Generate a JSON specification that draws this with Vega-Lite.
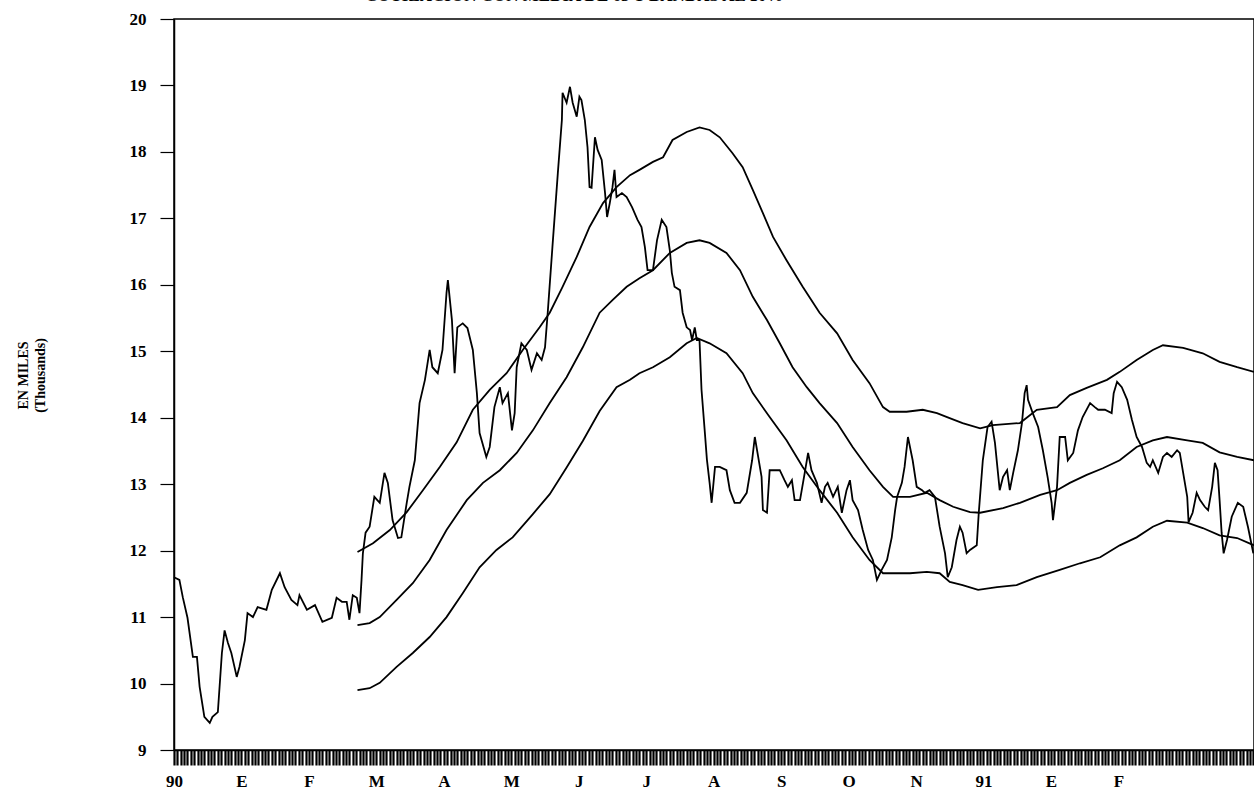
{
 "$schema": "https://vega.github.io/schema/vega-lite/v6.json",
 "width": 1080, "height": 731,
 "autosize": {"type": "none"},
 "padding": {"left": 174, "top": 19, "right": 0, "bottom": 50},
 "background": "white",
 "title": {"text": "COTIZACION CON MEDIA DE 65 Y BANDAS AL 10%", "anchor": "start", "frame": "group", "dx": 191, "dy": 12, "offset": 4, "baseline": "alphabetic", "font": "Liberation Serif", "fontSize": 17, "fontWeight": "bold", "color": "black"},
 "config": {
  "view": {"stroke": "black", "strokeWidth": 1.5},
  "axis": {"domainColor": "black", "domainWidth": 1.5, "tickColor": "black", "labelColor": "black", "labelFont": "Liberation Serif", "labelFontWeight": "bold", "labelFontSize": 17, "grid": false, "titleColor": "black"}
 },
 "data": {"values": [
  {"s":"c","t":0,"v":11.6},{"s":"c","t":0.08,"v":11.56},{"s":"c","t":0.13,"v":11.3},{"s":"c","t":0.2,"v":10.99},{"s":"c","t":0.28,"v":10.4},{"s":"c","t":0.34,"v":10.4},{"s":"c","t":0.38,"v":9.95},{"s":"c","t":0.45,"v":9.5},{"s":"c","t":0.53,"v":9.41},{"s":"c","t":0.57,"v":9.5},{"s":"c","t":0.65,"v":9.57},{"s":"c","t":0.71,"v":10.46},{"s":"c","t":0.75,"v":10.8},{"s":"c","t":0.8,"v":10.61},{"s":"c","t":0.85,"v":10.46},{"s":"c","t":0.93,"v":10.1},{"s":"c","t":0.97,"v":10.25},{"s":"c","t":1.05,"v":10.65},{"s":"c","t":1.09,"v":11.06},{"s":"c","t":1.17,"v":11.0},{"s":"c","t":1.24,"v":11.15},{"s":"c","t":1.37,"v":11.11},{"s":"c","t":1.45,"v":11.41},{"s":"c","t":1.57,"v":11.66},{"s":"c","t":1.64,"v":11.45},{"s":"c","t":1.74,"v":11.26},{"s":"c","t":1.83,"v":11.18},{"s":"c","t":1.86,"v":11.33},{"s":"c","t":1.97,"v":11.11},{"s":"c","t":2.09,"v":11.18},{"s":"c","t":2.2,"v":10.93},{"s":"c","t":2.34,"v":10.99},{"s":"c","t":2.41,"v":11.29},{"s":"c","t":2.49,"v":11.23},{"s":"c","t":2.56,"v":11.23},{"s":"c","t":2.6,"v":10.96},{"s":"c","t":2.65,"v":11.33},{"s":"c","t":2.71,"v":11.29},{"s":"c","t":2.75,"v":11.06},{"s":"c","t":2.78,"v":11.56},{"s":"c","t":2.8,"v":11.96},{"s":"c","t":2.84,"v":12.27},{"s":"c","t":2.9,"v":12.36},{"s":"c","t":2.97,"v":12.81},{"s":"c","t":3.05,"v":12.72},{"s":"c","t":3.12,"v":13.17},{"s":"c","t":3.17,"v":13.02},{"s":"c","t":3.24,"v":12.46},{"s":"c","t":3.32,"v":12.19},{"s":"c","t":3.37,"v":12.2},{"s":"c","t":3.45,"v":12.72},{"s":"c","t":3.49,"v":12.96},{"s":"c","t":3.57,"v":13.36},{"s":"c","t":3.64,"v":14.22},{"s":"c","t":3.72,"v":14.57},{"s":"c","t":3.79,"v":15.02},{"s":"c","t":3.83,"v":14.76},{"s":"c","t":3.91,"v":14.67},{"s":"c","t":3.98,"v":15.02},{"s":"c","t":4.04,"v":15.88},{"s":"c","t":4.06,"v":16.07},{"s":"c","t":4.12,"v":15.47},{"s":"c","t":4.16,"v":14.67},{"s":"c","t":4.2,"v":15.36},{"s":"c","t":4.28,"v":15.42},{"s":"c","t":4.35,"v":15.35},{"s":"c","t":4.43,"v":15.02},{"s":"c","t":4.49,"v":14.37},{"s":"c","t":4.53,"v":13.77},{"s":"c","t":4.63,"v":13.41},{"s":"c","t":4.68,"v":13.56},{"s":"c","t":4.75,"v":14.16},{"s":"c","t":4.83,"v":14.46},{"s":"c","t":4.87,"v":14.22},{"s":"c","t":4.95,"v":14.37},{"s":"c","t":5.01,"v":13.81},{"s":"c","t":5.05,"v":14.07},{"s":"c","t":5.08,"v":14.76},{"s":"c","t":5.15,"v":15.12},{"s":"c","t":5.23,"v":15.02},{"s":"c","t":5.3,"v":14.72},{"s":"c","t":5.38,"v":14.97},{"s":"c","t":5.45,"v":14.87},{"s":"c","t":5.5,"v":15.06},{"s":"c","t":5.54,"v":15.58},{"s":"c","t":5.61,"v":16.57},{"s":"c","t":5.69,"v":17.68},{"s":"c","t":5.75,"v":18.48},{"s":"c","t":5.76,"v":18.89},{"s":"c","t":5.82,"v":18.74},{"s":"c","t":5.87,"v":18.98},{"s":"c","t":5.91,"v":18.74},{"s":"c","t":5.97,"v":18.53},{"s":"c","t":6.01,"v":18.83},{"s":"c","t":6.04,"v":18.78},{"s":"c","t":6.09,"v":18.48},{"s":"c","t":6.13,"v":18.07},{"s":"c","t":6.16,"v":17.47},{"s":"c","t":6.19,"v":17.46},{"s":"c","t":6.24,"v":18.22},{"s":"c","t":6.28,"v":18.03},{"s":"c","t":6.34,"v":17.88},{"s":"c","t":6.39,"v":17.38},{"s":"c","t":6.42,"v":17.02},{"s":"c","t":6.46,"v":17.23},{"s":"c","t":6.5,"v":17.47},{"s":"c","t":6.53,"v":17.73},{"s":"c","t":6.56,"v":17.32},{"s":"c","t":6.64,"v":17.38},{"s":"c","t":6.71,"v":17.32},{"s":"c","t":6.79,"v":17.17},{"s":"c","t":6.87,"v":16.98},{"s":"c","t":6.93,"v":16.87},{"s":"c","t":6.98,"v":16.57},{"s":"c","t":7.02,"v":16.22},{"s":"c","t":7.1,"v":16.22},{"s":"c","t":7.16,"v":16.67},{"s":"c","t":7.23,"v":16.98},{"s":"c","t":7.3,"v":16.87},{"s":"c","t":7.35,"v":16.52},{"s":"c","t":7.38,"v":16.18},{"s":"c","t":7.42,"v":15.97},{"s":"c","t":7.5,"v":15.92},{"s":"c","t":7.54,"v":15.58},{"s":"c","t":7.6,"v":15.36},{"s":"c","t":7.65,"v":15.32},{"s":"c","t":7.68,"v":15.17},{"s":"c","t":7.72,"v":15.36},{"s":"c","t":7.75,"v":15.17},{"s":"c","t":7.79,"v":15.17},{"s":"c","t":7.82,"v":14.42},{"s":"c","t":7.87,"v":13.77},{"s":"c","t":7.9,"v":13.37},{"s":"c","t":7.94,"v":13.02},{"s":"c","t":7.97,"v":12.72},{"s":"c","t":8.02,"v":13.26},{"s":"c","t":8.09,"v":13.26},{"s":"c","t":8.19,"v":13.21},{"s":"c","t":8.24,"v":12.91},{"s":"c","t":8.31,"v":12.72},{"s":"c","t":8.39,"v":12.72},{"s":"c","t":8.49,"v":12.87},{"s":"c","t":8.57,"v":13.36},{"s":"c","t":8.61,"v":13.71},{"s":"c","t":8.65,"v":13.47},{"s":"c","t":8.71,"v":13.11},{"s":"c","t":8.73,"v":12.61},{"s":"c","t":8.79,"v":12.57},{"s":"c","t":8.83,"v":13.21},{"s":"c","t":8.98,"v":13.21},{"s":"c","t":9.05,"v":13.06},{"s":"c","t":9.1,"v":12.96},{"s":"c","t":9.16,"v":13.06},{"s":"c","t":9.2,"v":12.76},{"s":"c","t":9.28,"v":12.76},{"s":"c","t":9.35,"v":13.17},{"s":"c","t":9.4,"v":13.47},{"s":"c","t":9.45,"v":13.21},{"s":"c","t":9.53,"v":13.02},{"s":"c","t":9.6,"v":12.72},{"s":"c","t":9.65,"v":12.96},{"s":"c","t":9.69,"v":13.02},{"s":"c","t":9.77,"v":12.81},{"s":"c","t":9.84,"v":12.96},{"s":"c","t":9.9,"v":12.57},{"s":"c","t":9.97,"v":12.91},{"s":"c","t":10.02,"v":13.06},{"s":"c","t":10.06,"v":12.76},{"s":"c","t":10.14,"v":12.61},{"s":"c","t":10.21,"v":12.31},{"s":"c","t":10.29,"v":12.01},{"s":"c","t":10.36,"v":11.86},{"s":"c","t":10.42,"v":11.56},{"s":"c","t":10.49,"v":11.71},{"s":"c","t":10.57,"v":11.86},{"s":"c","t":10.64,"v":12.2},{"s":"c","t":10.69,"v":12.61},{"s":"c","t":10.72,"v":12.81},{"s":"c","t":10.79,"v":13.02},{"s":"c","t":10.83,"v":13.26},{"s":"c","t":10.88,"v":13.71},{"s":"c","t":10.95,"v":13.36},{"s":"c","t":11.01,"v":12.96},{"s":"c","t":11.09,"v":12.91},{"s":"c","t":11.13,"v":12.87},{"s":"c","t":11.2,"v":12.91},{"s":"c","t":11.28,"v":12.81},{"s":"c","t":11.35,"v":12.36},{"s":"c","t":11.43,"v":11.96},{"s":"c","t":11.47,"v":11.6},{"s":"c","t":11.53,"v":11.75},{"s":"c","t":11.6,"v":12.16},{"s":"c","t":11.65,"v":12.36},{"s":"c","t":11.69,"v":12.27},{"s":"c","t":11.75,"v":11.96},{"s":"c","t":11.8,"v":12.01},{"s":"c","t":11.9,"v":12.08},{"s":"c","t":11.93,"v":12.57},{"s":"c","t":11.99,"v":13.36},{"s":"c","t":12.06,"v":13.86},{"s":"c","t":12.12,"v":13.94},{"s":"c","t":12.17,"v":13.62},{"s":"c","t":12.24,"v":12.91},{"s":"c","t":12.29,"v":13.11},{"s":"c","t":12.35,"v":13.21},{"s":"c","t":12.39,"v":12.91},{"s":"c","t":12.44,"v":13.17},{"s":"c","t":12.51,"v":13.51},{"s":"c","t":12.57,"v":13.92},{"s":"c","t":12.61,"v":14.37},{"s":"c","t":12.64,"v":14.49},{"s":"c","t":12.66,"v":14.27},{"s":"c","t":12.73,"v":14.07},{"s":"c","t":12.81,"v":13.86},{"s":"c","t":12.88,"v":13.51},{"s":"c","t":12.95,"v":13.11},{"s":"c","t":13.01,"v":12.72},{"s":"c","t":13.03,"v":12.46},{"s":"c","t":13.09,"v":12.96},{"s":"c","t":13.13,"v":13.71},{"s":"c","t":13.21,"v":13.71},{"s":"c","t":13.25,"v":13.36},{"s":"c","t":13.33,"v":13.47},{"s":"c","t":13.4,"v":13.81},{"s":"c","t":13.47,"v":14.01},{"s":"c","t":13.58,"v":14.22},{"s":"c","t":13.65,"v":14.16},{"s":"c","t":13.7,"v":14.12},{"s":"c","t":13.8,"v":14.12},{"s":"c","t":13.9,"v":14.07},{"s":"c","t":13.93,"v":14.37},{"s":"c","t":13.98,"v":14.54},{"s":"c","t":14.05,"v":14.46},{"s":"c","t":14.13,"v":14.27},{"s":"c","t":14.2,"v":13.97},{"s":"c","t":14.27,"v":13.71},{"s":"c","t":14.35,"v":13.56},{"s":"c","t":14.42,"v":13.32},{"s":"c","t":14.47,"v":13.26},{"s":"c","t":14.51,"v":13.36},{"s":"c","t":14.59,"v":13.17},{"s":"c","t":14.66,"v":13.41},{"s":"c","t":14.72,"v":13.47},{"s":"c","t":14.79,"v":13.41},{"s":"c","t":14.87,"v":13.51},{"s":"c","t":14.91,"v":13.47},{"s":"c","t":14.96,"v":13.17},{"s":"c","t":15.02,"v":12.81},{"s":"c","t":15.04,"v":12.43},{"s":"c","t":15.1,"v":12.57},{"s":"c","t":15.16,"v":12.87},{"s":"c","t":15.21,"v":12.76},{"s":"c","t":15.28,"v":12.66},{"s":"c","t":15.33,"v":12.61},{"s":"c","t":15.39,"v":12.96},{"s":"c","t":15.43,"v":13.32},{"s":"c","t":15.47,"v":13.21},{"s":"c","t":15.5,"v":12.76},{"s":"c","t":15.53,"v":12.27},{"s":"c","t":15.56,"v":11.96},{"s":"c","t":15.61,"v":12.16},{"s":"c","t":15.68,"v":12.51},{"s":"c","t":15.77,"v":12.72},{"s":"c","t":15.85,"v":12.66},{"s":"c","t":15.92,"v":12.36},{"s":"c","t":16.0,"v":11.96},
  {"s":"u","t":2.72,"v":11.98},{"s":"u","t":2.95,"v":12.11},{"s":"u","t":3.2,"v":12.31},{"s":"u","t":3.45,"v":12.58},{"s":"u","t":3.69,"v":12.91},{"s":"u","t":3.94,"v":13.26},{"s":"u","t":4.19,"v":13.63},{"s":"u","t":4.43,"v":14.12},{"s":"u","t":4.68,"v":14.42},{"s":"u","t":4.93,"v":14.67},{"s":"u","t":5.17,"v":15.02},{"s":"u","t":5.42,"v":15.36},{"s":"u","t":5.57,"v":15.58},{"s":"u","t":5.76,"v":15.97},{"s":"u","t":5.97,"v":16.42},{"s":"u","t":6.16,"v":16.87},{"s":"u","t":6.36,"v":17.23},{"s":"u","t":6.56,"v":17.47},{"s":"u","t":6.76,"v":17.65},{"s":"u","t":6.9,"v":17.73},{"s":"u","t":7.1,"v":17.85},{"s":"u","t":7.25,"v":17.92},{"s":"u","t":7.39,"v":18.18},{"s":"u","t":7.6,"v":18.3},{"s":"u","t":7.79,"v":18.37},{"s":"u","t":7.94,"v":18.33},{"s":"u","t":8.09,"v":18.22},{"s":"u","t":8.28,"v":17.98},{"s":"u","t":8.43,"v":17.77},{"s":"u","t":8.58,"v":17.43},{"s":"u","t":8.73,"v":17.08},{"s":"u","t":8.88,"v":16.72},{"s":"u","t":9.08,"v":16.37},{"s":"u","t":9.32,"v":15.97},{"s":"u","t":9.57,"v":15.58},{"s":"u","t":9.83,"v":15.27},{"s":"u","t":10.06,"v":14.87},{"s":"u","t":10.31,"v":14.52},{"s":"u","t":10.51,"v":14.16},{"s":"u","t":10.61,"v":14.09},{"s":"u","t":10.86,"v":14.09},{"s":"u","t":11.1,"v":14.12},{"s":"u","t":11.31,"v":14.07},{"s":"u","t":11.46,"v":14.01},{"s":"u","t":11.69,"v":13.92},{"s":"u","t":11.95,"v":13.84},{"s":"u","t":12.14,"v":13.89},{"s":"u","t":12.54,"v":13.92},{"s":"u","t":12.79,"v":14.12},{"s":"u","t":13.09,"v":14.16},{"s":"u","t":13.28,"v":14.34},{"s":"u","t":13.53,"v":14.45},{"s":"u","t":13.83,"v":14.57},{"s":"u","t":14.02,"v":14.69},{"s":"u","t":14.27,"v":14.87},{"s":"u","t":14.51,"v":15.02},{"s":"u","t":14.66,"v":15.09},{"s":"u","t":14.96,"v":15.05},{"s":"u","t":15.25,"v":14.97},{"s":"u","t":15.5,"v":14.84},{"s":"u","t":15.76,"v":14.76},{"s":"u","t":16.01,"v":14.69},
  {"s":"m","t":2.72,"v":10.88},{"s":"m","t":2.9,"v":10.91},{"s":"m","t":3.05,"v":11.0},{"s":"m","t":3.3,"v":11.26},{"s":"m","t":3.54,"v":11.51},{"s":"m","t":3.79,"v":11.86},{"s":"m","t":4.04,"v":12.31},{"s":"m","t":4.34,"v":12.76},{"s":"m","t":4.58,"v":13.02},{"s":"m","t":4.83,"v":13.21},{"s":"m","t":5.08,"v":13.47},{"s":"m","t":5.32,"v":13.81},{"s":"m","t":5.57,"v":14.22},{"s":"m","t":5.82,"v":14.61},{"s":"m","t":6.06,"v":15.06},{"s":"m","t":6.31,"v":15.58},{"s":"m","t":6.5,"v":15.77},{"s":"m","t":6.71,"v":15.97},{"s":"m","t":6.9,"v":16.1},{"s":"m","t":7.1,"v":16.22},{"s":"m","t":7.35,"v":16.48},{"s":"m","t":7.6,"v":16.63},{"s":"m","t":7.79,"v":16.67},{"s":"m","t":7.94,"v":16.63},{"s":"m","t":8.19,"v":16.48},{"s":"m","t":8.39,"v":16.22},{"s":"m","t":8.58,"v":15.82},{"s":"m","t":8.79,"v":15.47},{"s":"m","t":8.98,"v":15.12},{"s":"m","t":9.17,"v":14.76},{"s":"m","t":9.38,"v":14.46},{"s":"m","t":9.57,"v":14.22},{"s":"m","t":9.83,"v":13.92},{"s":"m","t":10.06,"v":13.56},{"s":"m","t":10.31,"v":13.21},{"s":"m","t":10.51,"v":12.96},{"s":"m","t":10.66,"v":12.81},{"s":"m","t":10.91,"v":12.81},{"s":"m","t":11.16,"v":12.87},{"s":"m","t":11.35,"v":12.76},{"s":"m","t":11.55,"v":12.66},{"s":"m","t":11.8,"v":12.58},{"s":"m","t":11.95,"v":12.57},{"s":"m","t":12.29,"v":12.64},{"s":"m","t":12.54,"v":12.72},{"s":"m","t":12.84,"v":12.84},{"s":"m","t":13.09,"v":12.91},{"s":"m","t":13.28,"v":13.02},{"s":"m","t":13.53,"v":13.14},{"s":"m","t":13.77,"v":13.24},{"s":"m","t":14.02,"v":13.36},{"s":"m","t":14.27,"v":13.56},{"s":"m","t":14.51,"v":13.66},{"s":"m","t":14.72,"v":13.71},{"s":"m","t":15.02,"v":13.66},{"s":"m","t":15.25,"v":13.62},{"s":"m","t":15.5,"v":13.48},{"s":"m","t":15.76,"v":13.41},{"s":"m","t":16.01,"v":13.36},
  {"s":"l","t":2.72,"v":9.9},{"s":"l","t":2.9,"v":9.93},{"s":"l","t":3.05,"v":10.01},{"s":"l","t":3.3,"v":10.25},{"s":"l","t":3.54,"v":10.46},{"s":"l","t":3.79,"v":10.7},{"s":"l","t":4.04,"v":11.0},{"s":"l","t":4.28,"v":11.36},{"s":"l","t":4.53,"v":11.75},{"s":"l","t":4.78,"v":12.01},{"s":"l","t":5.02,"v":12.2},{"s":"l","t":5.32,"v":12.55},{"s":"l","t":5.57,"v":12.85},{"s":"l","t":5.82,"v":13.25},{"s":"l","t":6.06,"v":13.65},{"s":"l","t":6.31,"v":14.1},{"s":"l","t":6.56,"v":14.46},{"s":"l","t":6.76,"v":14.57},{"s":"l","t":6.9,"v":14.67},{"s":"l","t":7.1,"v":14.76},{"s":"l","t":7.35,"v":14.91},{"s":"l","t":7.6,"v":15.12},{"s":"l","t":7.75,"v":15.2},{"s":"l","t":7.94,"v":15.12},{"s":"l","t":8.19,"v":14.97},{"s":"l","t":8.43,"v":14.67},{"s":"l","t":8.58,"v":14.37},{"s":"l","t":8.83,"v":14.01},{"s":"l","t":9.08,"v":13.66},{"s":"l","t":9.32,"v":13.26},{"s":"l","t":9.57,"v":12.91},{"s":"l","t":9.83,"v":12.57},{"s":"l","t":10.06,"v":12.2},{"s":"l","t":10.31,"v":11.86},{"s":"l","t":10.51,"v":11.66},{"s":"l","t":10.91,"v":11.66},{"s":"l","t":11.16,"v":11.68},{"s":"l","t":11.35,"v":11.66},{"s":"l","t":11.5,"v":11.53},{"s":"l","t":11.69,"v":11.48},{"s":"l","t":11.92,"v":11.41},{"s":"l","t":12.2,"v":11.45},{"s":"l","t":12.49,"v":11.48},{"s":"l","t":12.79,"v":11.6},{"s":"l","t":13.13,"v":11.71},{"s":"l","t":13.43,"v":11.81},{"s":"l","t":13.73,"v":11.9},{"s":"l","t":14.02,"v":12.08},{"s":"l","t":14.27,"v":12.2},{"s":"l","t":14.51,"v":12.36},{"s":"l","t":14.72,"v":12.45},{"s":"l","t":15.02,"v":12.42},{"s":"l","t":15.25,"v":12.34},{"s":"l","t":15.5,"v":12.23},{"s":"l","t":15.76,"v":12.19},{"s":"l","t":16.01,"v":12.08}
 ]},
 "mark": {"type": "line", "color": "black", "strokeWidth": 1.8},
 "encoding": {
  "x": {"field": "t", "type": "quantitative", "scale": {"domain": [0, 16.01], "nice": false, "zero": false},
   "axis": {"title": null, "tickCount": 330, "tickSize": 15, "tickWidth": 2.2, "labelPadding": 8, "labelOverlap": false, "labelFlush": false, "labelBound": false,
    "labelExpr": "abs(datum.value - round(datum.value)) < 0.001 && round(datum.value) <= 14 ? ['90','E','F','M','A','M','J','J','A','S','O','N','91','E','F'][round(datum.value)] : ''"}},
  "y": {"field": "v", "type": "quantitative", "scale": {"domain": [9, 20], "nice": false, "zero": false},
   "axis": {"values": [9,10,11,12,13,14,15,16,17,18,19,20], "tickSize": 14, "tickWidth": 1.2, "labelPadding": 14,
    "title": ["EN MILES", "(Thousands)"], "titleFont": "Liberation Serif", "titleFontWeight": "bold", "titleFontSize": 14, "titleLineHeight": 17, "titleAngle": -90, "titleAlign": "center", "titleBaseline": "middle", "titleX": -151, "titleY": 356}},
  "detail": {"field": "s"}
 }
}
